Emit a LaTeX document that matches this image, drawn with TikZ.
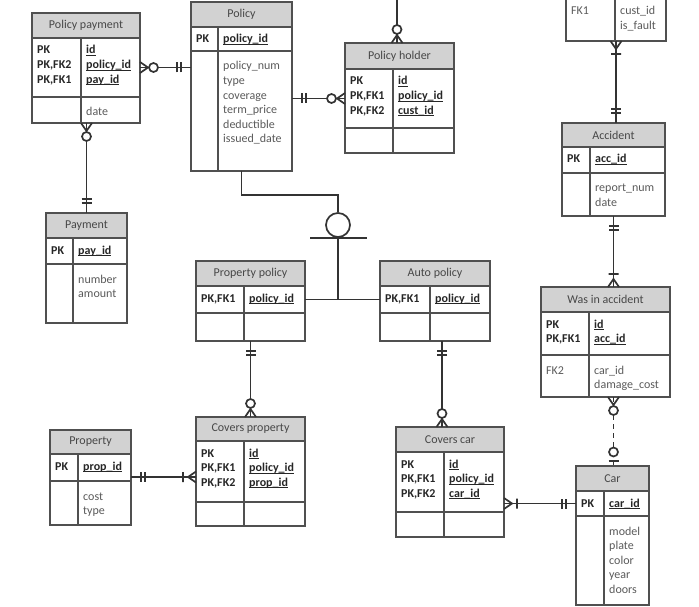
\documentclass[tikz,border=0pt]{standalone}
\usepackage{fontspec}
\setmainfont{Carlito}
\usetikzlibrary{fit,calc}
\definecolor{erframe}{HTML}{505050}
\definecolor{erhead}{HTML}{D2D2D2}
\definecolor{ertext}{HTML}{5A5A5A}
\newcommand{\erfont}{\fontsize{12}{14.6}\selectfont}
\newcommand{\ulkey}[1]{\setbox0=\hbox{#1}\rlap{\rule[-1.8pt]{\wd0}{0.7pt}}\box0}
\tikzstyle{erline} = [line width=1.3pt, draw=erframe]
\tikzstyle{ertitle} = [erline, fill=erhead, anchor=north west, inner sep=0pt, outer sep=0pt, text=black!72, font=\erfont]
\tikzstyle{ercell} = [erline, anchor=north west, inner sep=0pt, outer sep=0pt]
\tikzstyle{kfld} = [anchor=base west, inner sep=0pt, font=\erfont\bfseries, text=black!85]
\tikzstyle{afld} = [anchor=base west, inner sep=0pt, font=\erfont, text=ertext]
\tikzstyle{conn} = [line width=1.7pt, draw=black!80]
% crow's foot ends, x points away from the table
\tikzset{
  onlyone/.pic={\draw[conn] (10,-5) -- (10,5) (14,-5) -- (14,5);},
  zeromany/.pic={\draw[conn] (0,-5.5) -- (8,0) -- (0,5.5); \draw[conn,fill=white] (13.5,0) circle (4.5pt);},
  onemany/.pic={\draw[conn] (0,-5.5) -- (8,0) -- (0,5.5) (13,-5) -- (13,5);},
  zeroone/.pic={\draw[conn] (5,-5) -- (5,5); \draw[conn,fill=white] (14,0) circle (4.5pt);},
}
% x/y/width/left column/title h/key h/attr h
\def\ergeo#1/#2/#3/#4/#5/#6/#7\relax{%
  \def\erx{#1}\def\ery{#2}\def\erw{#3}\def\erwl{#4}%
  \def\erht{#5}\def\erhk{#6}\def\erha{#7}}
\newcommand{\ertable}[7]{%
  \ergeo#2\relax
  \node[ertitle, minimum width=\erw pt, minimum height=\erht pt] (#1-t) at (\erx,\ery) {#3};
  \node[ercell, minimum width=\erw pt, minimum height=\erhk pt] (#1-k) at (#1-t.south west) {};
  \node[ercell, minimum width=\erw pt, minimum height=\erha pt] (#1-a) at (#1-k.south west) {};
  \node[fit=(#1-t)(#1-a), inner sep=0pt, outer sep=0pt] (#1) {};
  \draw[erline] ([xshift=\erwl pt]#1-k.north west) -- ([xshift=\erwl pt]#1-a.south west);
  \foreach \f [count=\i] in {#4}
    \node[kfld] (#1-kl\i) at ([shift={(5,{16+(\i-1)*14.6})}]#1-k.north west) {\f};
  \foreach \f [count=\i] in {#5}
    \node[kfld] (#1-kr\i) at ([shift={(\erwl+5,{16+(\i-1)*14.6})}]#1-k.north west) {\ulkey{\f}};
  \foreach \f [count=\i] in {#6}
    \node[afld] (#1-al\i) at ([shift={(5,{19+(\i-1)*14.6})}]#1-a.north west) {\f};
  \foreach \f [count=\i] in {#7}
    \node[afld] (#1-ar\i) at ([shift={(\erwl+5,{19+(\i-1)*14.6})}]#1-a.north west) {\f};
}

\begin{document}
\begin{tikzpicture}[x=1pt,y=-1pt]
  \useasboundingbox (0,0) rectangle (699,607);
  % tables
  \ertable{ppay}{32/13/108/49/25/59/26}{Policy payment}{PK,{PK,FK2},{PK,FK1}}{id,policy\_id,pay\_id}{}{date}
  \ertable{pol}{191/2/101/27/25/24/120}{Policy}{PK}{policy\_id}{}{policy\_num,type,coverage,term\_price,deductible,issued\_date}
  \ertable{ph}{345/43/109/48/26/59/25}{Policy holder}{PK,{PK,FK1},{PK,FK2}}{id,policy\_id,cust\_id}{}{}
  \ertable{inv}{566/-60/100/49/25/31/45}{}{}{}{FK1}{cust\_id,is\_fault}
  \ertable{acc}{562/123/103/28/24/26/43}{Accident}{PK}{acc\_id}{}{report\_num,date}
  \ertable{pay}{46/213/81/27/25/26/59}{Payment}{PK}{pay\_id}{}{number,amount}
  \ertable{ppol}{196/261/109/48/25/27/28}{Property policy}{{PK,FK1}}{policy\_id}{}{}
  \ertable{apol}{380/261/110/50/25/27/28}{Auto policy}{{PK,FK1}}{policy\_id}{}{}
  \ertable{wia}{541/287/129/48/25/43/42}{Was in accident}{PK,{PK,FK1}}{id,acc\_id}{FK2}{car\_id,damage\_cost}
  \ertable{prop}{50/430/81/28/24/27/44}{Property}{PK}{prop\_id}{}{cost,type}
  \ertable{cprop}{196/417/109/48/24/61/24}{Covers property}{PK,{PK,FK1},{PK,FK2}}{id,policy\_id,prop\_id}{}{}
  \ertable{ccar}{396/427/108/48/25/60/25}{Covers car}{PK,{PK,FK1},{PK,FK2}}{id,policy\_id,car\_id}{}{}
  \ertable{car}{576/466/73/28/25/25/89}{Car}{PK}{car\_id}{}{model,plate,color,year,doors}

  % subtypes of policy
  \node[circle, conn, minimum size=24pt, inner sep=0pt] (isa) at (338,225) {};
  \draw[conn] (pol.south) -- ++(0,24) -| (isa.north);
  \draw[conn] ([xshift=-28pt]isa.south) -- ([xshift=29pt]isa.south);
  \draw[conn] (isa.south) -- (isa.south |- ppol-k.east);
  \draw[conn] (ppol-k.east) -- (apol-k.west);

  % relationships
  \draw[conn] (ppay-k.east) -- (ppay-k.east -| pol.west);
  \path (ppay-k.east) pic {zeromany} (ppay-k.east -| pol.west) pic[rotate=180] {onlyone};

  \draw[conn] (ph-k.west) -- (ph-k.west -| pol.east);
  \path (ph-k.west) pic[rotate=180] {zeromany} (ph-k.west -| pol.east) pic {onlyone};

  \coordinate (phup) at (397,-4);
  \draw[conn] (phup |- ph.north) -- (phup);
  \path (phup |- ph.north) pic[rotate=90] {zeromany};

  \draw[conn] (ppay.south -| pay.north) -- (pay.north);
  \path (ppay.south -| pay.north) pic[rotate=-90] {zeromany} (pay.north) pic[rotate=90] {onlyone};

  \draw[conn] (inv.south) -- (inv.south |- acc.north);
  \path (inv.south) pic[rotate=-90] {onemany} (inv.south |- acc.north) pic[rotate=90] {onlyone};

  \draw[conn] (acc.south) -- (acc.south |- wia.north);
  \path (acc.south) pic[rotate=-90] {onlyone} (acc.south |- wia.north) pic[rotate=90] {onemany};

  \draw[conn, dash pattern=on 5pt off 4pt] (acc.south |- wia.south) -- (acc.south |- car.north);
  \path (acc.south |- wia.south) pic[rotate=-90] {zeromany} (acc.south |- car.north) pic[rotate=90] {zeroone};

  \draw[conn] (car-k.west) -- (car-k.west -| ccar.east);
  \path (car-k.west) pic[rotate=180] {onlyone} (car-k.west -| ccar.east) pic {onemany};

  \draw[conn] ([xshift=7pt]apol.south) -- ([xshift=-8pt]ccar.north);
  \path ([xshift=7pt]apol.south) pic[rotate=-90] {onlyone} ([xshift=-8pt]ccar.north) pic[rotate=90] {zeromany};

  \draw[conn] (ppol.south) -- (ppol.south |- cprop.north);
  \path (ppol.south) pic[rotate=-90] {onlyone} (ppol.south |- cprop.north) pic[rotate=90] {zeromany};

  \coordinate (propx) at ([yshift=-9.5pt]prop-k.east);
  \draw[conn] (propx) -- (propx -| cprop.west);
  \path (propx) pic {onlyone} (propx -| cprop.west) pic[rotate=180] {onemany};
\end{tikzpicture}
\end{document}
